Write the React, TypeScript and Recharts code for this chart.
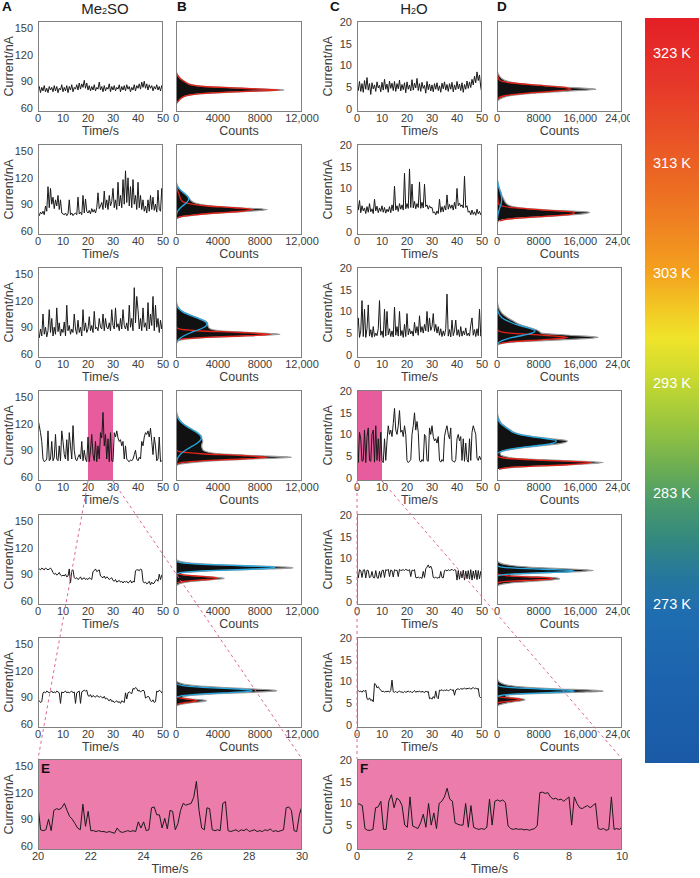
import React from 'react'
import { LineChart, Line, ComposedChart, Area, XAxis, YAxis, ReferenceArea } from 'recharts'

const FONT = '"Liberation Sans", Arial, Helvetica, sans-serif'
const INK = '#3c3c3c'
const FRAME = '#808080'
const RED = '#e2231a'
const BLUE = '#29a9e1'
const STRIP = '#e65c9c'
const ZOOM_BG = '#ec7cab'

// layout (px)
const BOX_H = 91
const ROW_TOPS = [21, 144, 267, 390, 514, 637]
const ZOOM_TOP = 759
const COL_A = 38
const COL_B = 176
const COL_C = 357
const COL_D = 497
const Y_AXIS_W = 38
const TOP_PAD = 4
const X_AXIS_H = 40
const SIDE_PAD = 20

const DMSO_DOMAIN: [number, number] = [55, 158.5]
const WATER_DOMAIN: [number, number] = [-0.75, 20.25]
const DMSO_TICKS = [60, 90, 120, 150]
const WATER_TICKS = [0, 5, 10, 15, 20]
const TIME_TICKS = [0, 10, 20, 30, 40, 50]
const DMSO_COUNT_TICKS = [0, 4000, 8000, 12000]
const WATER_COUNT_TICKS = [0, 8000, 16000, 24000]
const TEMPS = ['323 K', '313 K', '303 K', '293 K', '283 K', '273 K']

// ---- current traces, 0-50 s, Me2SO (nA) ----
const dmso323 = [
  80, 84, 77, 83, 79, 85, 78, 82, 77, 84,
  80, 83, 78, 85, 79, 84, 77, 82, 80, 86,
  78, 83, 79, 85, 77, 84, 80, 86, 78, 83,
  81, 86, 80, 88, 81, 87, 83, 91, 82, 88,
  80, 85, 79, 84, 80, 86, 79, 83, 81, 89,
  80, 84, 78, 85, 79, 83, 81, 87, 78, 84,
  80, 85, 79, 83, 81, 86, 78, 84, 80, 85,
  79, 86, 81, 84, 78, 83, 80, 86, 79, 85,
  82, 87, 81, 89, 83, 90, 82, 87, 80, 86,
  82, 85, 79, 84, 81, 86, 80, 84, 79, 85, 81,
]
const dmso313 = [
  80, 77, 81, 79, 82, 78, 88, 82, 110, 86,
  108, 90, 98, 85, 95, 88, 100, 84, 95, 80,
  79, 78, 80, 77, 79, 95, 78, 80, 77, 79,
  80, 78, 98, 79, 81, 78, 100, 80, 96, 82,
  80, 83, 79, 85, 81, 84, 80, 86, 103, 85,
  88, 92, 84, 105, 86, 95, 84, 100, 88, 93,
  108, 86, 95, 84, 115, 88, 100, 86, 118, 90,
  128, 92, 120, 88, 110, 86, 118, 90, 100, 84,
  115, 86, 100, 84, 95, 82, 88, 80, 95, 82,
  100, 84, 98, 83, 90, 81, 106, 84, 82, 108, 80,
]
const dmso303 = [
  82, 78, 88, 80, 105, 82, 90, 79, 86, 110,
  84, 100, 80, 90, 82, 112, 85, 95, 80, 88,
  84, 96, 80, 115, 86, 92, 82, 88, 84, 105,
  88, 82, 98, 84, 90, 80, 110, 86, 95, 84,
  88, 102, 86, 92, 84, 108, 88, 90, 86, 100,
  90, 88, 105, 86, 100, 90, 88, 95, 86, 110,
  92, 88, 112, 90, 94, 86, 100, 88, 110, 92,
  88, 95, 86, 115, 90, 100, 86, 135, 95, 125,
  110, 88, 100, 86, 112, 90, 95, 86, 118, 88,
  105, 92, 125, 86, 115, 90, 100, 84, 98, 88, 100,
]
const dmso293 = [
  125, 118, 110, 100, 80, 77, 78, 80, 112, 78,
  80, 100, 78, 82, 108, 80, 78, 95, 78, 112,
  100, 85, 80, 102, 78, 110, 95, 80, 118, 90,
  80, 78, 82, 85, 80, 100, 78, 90, 80, 77,
  105, 77, 90, 108, 85, 78, 100, 77, 95, 80,
  110, 104, 133, 95, 108, 80, 103, 77, 110, 78,
  77, 110, 105, 112, 104, 100, 102, 95, 100, 80,
  95, 80, 78, 77, 79, 78, 80, 85, 90, 80,
  78, 82, 80, 100, 95, 105, 110, 108, 112, 105,
  115, 100, 85, 105, 95, 78, 80, 105, 77, 78, 77,
]
const dmso283 = [
  95, 96, 95, 97, 96, 95, 97, 96, 95, 96,
  97, 95, 92, 90, 91, 89, 90, 92, 89, 88,
  89, 88, 90, 87, 88, 96, 80, 94, 95, 86,
  85, 86, 84, 85, 87, 84, 85, 86, 84, 85,
  84, 86, 85, 84, 93, 94, 96, 93, 94, 95,
  88, 87, 86, 88, 85, 87, 86, 84, 85, 86,
  83, 82, 84, 81, 82, 83, 81, 82, 80, 82,
  81, 82, 80, 81, 83, 80, 82, 81, 94, 95,
  95, 94, 96, 95, 82, 80, 81, 79, 80, 82,
  78, 81, 79, 80, 83, 84, 82, 90, 84, 89, 88,
]
const dmso273 = [
  85, 86, 84, 85, 95, 96, 95, 97, 96, 95,
  96, 97, 95, 96, 95, 97, 96, 95, 83, 96,
  95, 96, 97, 95, 96, 95, 96, 97, 95, 96,
  83, 95, 96, 97, 83, 96, 97, 98, 97, 98,
  92, 91, 93, 90, 92, 91, 90, 92, 91, 90,
  91, 90, 89, 91, 88, 89, 87, 86, 88, 85,
  86, 84, 85, 86, 84, 85, 83, 86, 85, 84,
  95, 88, 95, 96, 95, 94, 100, 99, 101, 100,
  97, 98, 96, 97, 98, 97, 89, 90, 91, 90,
  86, 85, 87, 84, 85, 97, 96, 98, 97, 95, 98,
]

// ---- current traces, 0-50 s, H2O (nA) ----
const water323 = [
  5.5, 4.2, 6.3, 4.0, 5.8, 3.8, 6.5, 4.5, 7.2, 4.3,
  5.8, 3.3, 6.0, 4.6, 5.5, 4.0, 6.2, 4.8, 5.4, 3.9,
  6.1, 4.3, 6.8, 4.5, 5.7, 3.8, 6.4, 4.7, 5.9, 4.2,
  6.3, 4.0, 5.8, 4.6, 6.6, 4.1, 5.6, 4.4, 6.0, 3.7,
  6.2, 4.5, 5.5, 4.1, 6.7, 4.3, 5.9, 4.8, 7.0, 4.2,
  5.8, 4.0, 6.1, 4.7, 5.4, 3.6, 6.3, 4.4, 5.7, 4.1,
  5.5, 3.9, 5.8, 4.5, 6.0, 4.2, 5.3, 3.8, 5.9, 4.6,
  6.2, 4.3, 5.6, 4.0, 5.8, 4.5, 6.1, 3.9, 5.5, 4.4,
  6.3, 4.6, 5.7, 4.2, 6.0, 3.8, 5.6, 4.5, 6.4, 4.7,
  6.2, 4.9, 6.8, 5.5, 7.5, 6.0, 8.5, 6.5, 7.8, 5.0, 3.5,
]
const water313 = [
  7.5, 5.0, 7.2, 4.4, 6.0, 4.8, 5.5, 4.2, 5.8, 4.5,
  6.5, 4.6, 5.3, 4.2, 7.5, 4.8, 5.9, 4.4, 5.5, 4.7,
  6.0, 4.5, 5.6, 4.3, 5.2, 4.6, 5.8, 4.4, 6.2, 4.8,
  10.5, 5.0, 6.0, 4.7, 6.5, 5.2, 6.2, 5.0, 13.5, 5.3,
  6.5, 5.4, 14.5, 5.6, 11.0, 5.5, 7.0, 5.3, 6.5, 5.6,
  11.5, 5.4, 6.8, 5.5, 11.0, 5.8, 6.2, 5.2, 6.0, 5.5,
  5.6, 4.3, 4.6, 3.9, 4.8, 4.2, 7.5, 4.5, 5.8, 4.6,
  6.0, 5.0, 8.5, 5.2, 6.3, 5.4, 6.2, 5.0, 6.8, 5.3,
  10.0, 6.0, 6.6, 5.8, 6.2, 5.5, 12.8, 5.6, 6.0, 4.5,
  4.8, 3.9, 5.0, 4.0, 4.6, 3.8, 5.2, 4.1, 4.7, 3.9, 4.3,
]
const water303 = [
  4.5, 8.5, 4.0, 5.5, 12.5, 4.2, 10.5, 4.0, 6.0, 11.5,
  4.3, 5.8, 4.0, 6.5, 4.2, 5.0, 4.4, 6.0, 12.5, 4.5,
  5.5, 4.0, 10.5, 4.3, 10.0, 4.6, 6.0, 4.2, 5.5, 4.1,
  11.0, 4.5, 6.5, 4.3, 10.0, 4.4, 5.6, 4.0, 7.0, 4.2,
  9.5, 4.6, 6.0, 4.8, 5.5, 4.3, 7.5, 5.0, 6.5, 4.5,
  9.0, 5.2, 6.5, 5.0, 7.0, 5.5, 10.0, 5.3, 8.5, 5.6,
  6.5, 9.5, 5.4, 7.0, 5.0, 6.5, 4.5, 6.0, 4.2, 5.5,
  4.4, 6.0, 14.0, 4.3, 5.8, 4.1, 8.0, 4.4, 5.5, 8.0,
  4.5, 5.8, 4.2, 6.5, 4.3, 5.5, 4.6, 6.2, 4.4, 5.0,
  4.3, 6.8, 8.5, 4.5, 5.8, 4.2, 6.0, 4.4, 10.5, 4.3, 5.0,
]
const water293 = [
  11.0, 3.5, 10.5, 9.0, 3.8, 4.0, 11.0, 3.5, 9.5, 11.5,
  4.0, 3.8, 10.0, 11.0, 3.6, 12.0, 4.0, 9.0, 3.8, 10.5,
  4.0, 3.5, 9.0, 4.0, 8.5, 12.0, 10.0, 11.0, 9.5, 12.5,
  16.0, 11.0, 10.0, 12.0, 15.5, 10.5, 11.0, 9.5, 12.0, 10.0,
  4.0, 3.5, 3.8, 4.2, 10.0, 12.0, 15.0, 11.0, 13.0, 10.5,
  4.0, 3.6, 4.2, 3.8, 10.0, 9.5, 4.0, 3.8, 11.5, 10.0,
  12.0, 9.5, 8.5, 9.0, 8.0, 9.5, 4.0, 3.6, 4.2, 3.8,
  9.5, 11.0, 12.0, 10.0, 9.0, 11.5, 4.0, 3.8, 3.6, 4.2,
  9.0, 10.0, 8.5, 9.5, 4.0, 9.0, 3.8, 8.0, 4.2, 3.6,
  9.0, 4.0, 10.5, 12.0, 11.0, 10.0, 4.5, 4.0, 5.0, 4.2, 5.0,
]
const water283 = [
  7.2, 5.5, 7.4, 7.2, 5.6, 7.3, 7.4, 5.5, 7.3, 7.2,
  5.5, 5.8, 7.0, 5.6, 5.5, 7.2, 5.6, 5.4, 7.0, 5.6,
  7.2, 7.3, 5.6, 7.4, 7.2, 7.5, 5.8, 7.3, 7.2, 5.7,
  7.4, 7.2, 7.3, 5.8, 7.5, 7.2, 7.3, 7.4, 7.2, 7.5,
  7.3, 7.2, 7.4, 5.8, 7.3, 7.2, 7.4, 5.6, 5.5, 5.7,
  5.5, 5.6, 5.4, 7.0, 5.6, 7.6, 8.0, 8.5, 7.8, 8.2,
  7.5, 5.6, 5.5, 5.7, 5.4, 5.6, 5.5, 7.0, 5.6, 5.5,
  7.2, 7.3, 7.1, 7.4, 7.2, 7.3, 7.5, 7.2, 7.4, 7.3,
  5.0, 7.2, 5.2, 7.0, 5.5, 7.3, 5.0, 7.1, 5.3, 7.2,
  5.2, 7.4, 5.0, 7.1, 5.4, 7.3, 5.1, 7.2, 5.3, 7.0, 5.5,
]
const water273 = [
  7.8, 7.9, 7.6, 7.8, 7.5, 7.9, 7.7, 8.0, 6.0, 5.8,
  6.2, 5.6, 5.8, 5.3, 9.5, 9.3, 8.5, 8.8, 8.3, 8.0,
  7.6, 7.8, 7.5, 7.7, 7.6, 7.8, 7.5, 7.9, 10.3, 7.6,
  7.5, 7.7, 7.4, 7.6, 7.8, 7.5, 7.6, 7.4, 7.7, 7.5,
  7.6, 7.8, 7.5, 7.7, 7.4, 7.6, 7.9, 7.5, 7.7, 7.6,
  7.8, 7.5, 7.7, 7.6, 7.4, 7.8, 7.5, 7.7, 6.0, 6.2,
  5.9, 6.5, 6.1, 7.8, 6.3, 6.0, 8.0, 7.9, 8.1, 7.8,
  8.0, 7.9, 8.1, 7.8, 8.0, 8.2, 7.9, 8.1, 6.8, 8.0,
  8.2, 8.3, 8.1, 8.4, 8.2, 8.3, 8.5, 8.2, 8.4, 8.3,
  8.5, 8.2, 8.4, 8.6, 8.3, 8.5, 8.2, 8.4, 6.5, 6.2, 6.5,
]

// ---- zoomed traces: Me2SO 293 K, 20-30 s; H2O 293 K, 0-10 s ----
const dmsoZoom = [
  105, 78, 77, 78, 90, 77, 100, 102, 101, 103,
  108, 100, 93, 90, 85, 80, 78, 107, 82, 99,
  77, 77, 76, 77, 76, 76, 75, 76, 75, 74,
  80, 76, 75, 76, 77, 76, 77, 76, 87, 80,
  87, 77, 78, 103, 104, 95, 95, 80, 91, 79,
  100, 99, 78, 85, 100, 108, 106, 107, 108, 115,
  133, 100, 80, 78, 103, 102, 78, 77, 78, 77,
  108, 110, 77, 76, 77, 78, 76, 78, 77, 79,
  76, 77, 78, 76, 77, 76, 78, 77, 79, 76,
  77, 76, 77, 78, 103, 104, 100, 77, 76, 95, 105,
]
const waterZoom = [
  10, 9.8, 9.5, 4.2, 3.8, 3.8, 4.0, 9.0, 9.2, 10.5,
  4.0, 4.0, 10.5, 12.0, 9.0, 11.2, 10.8, 9.5, 5.0, 4.5,
  11.5, 4.8, 4.5, 4.2, 5.5, 7.5, 4.5, 10.0, 5.0, 7.8,
  4.2, 10.0, 10.5, 11.5, 13.5, 11.0, 10.5, 5.5, 5.2, 5.0,
  5.0, 10.0, 4.5, 9.5, 4.5, 4.2, 4.0, 4.2, 4.0, 4.5,
  11.0, 5.0, 10.5, 10.8, 10.5, 10.8, 10.2, 4.8, 4.2, 4.0,
  4.2, 4.0, 4.1, 3.9, 4.0, 3.8, 4.0, 4.2, 4.8, 12.5,
  12.6, 12.3, 12.5, 11.5, 11.0, 11.2, 10.8, 11.0, 10.5, 11.0,
  11.5, 5.0, 11.5, 10.0, 9.0, 8.8, 9.2, 9.5, 9.0, 9.5,
  10.0, 4.2, 4.0, 4.2, 3.8, 4.0, 11.5, 4.0, 4.2, 4.0, 4.5,
]

// ---- Me2SO histograms: current bins (nA), counts, red and blue fits ----
const h323Bins = [64, 66, 68, 70, 72, 74, 76, 78, 80, 82, 84, 86, 88, 90, 92, 94, 96, 98, 100, 102]
const h323Counts = [0, 150, 300, 450, 700, 1200, 2500, 6000, 10300, 6500, 2800, 1500, 1100, 800, 550, 350, 200, 100, 30, 0]
const h323Red = [0, 100, 250, 400, 650, 1100, 2300, 5500, 9800, 6200, 2600, 1400, 1000, 750, 500, 330, 200, 110, 40, 0]
const h323Blue: (number | null)[] = []

const h313Bins = [72, 74, 76, 78, 80, 82, 84, 86, 88, 90, 92, 94, 96, 98, 100, 102, 104, 106, 108, 110, 112, 114, 116, 118]
const h313Counts = [0, 100, 600, 2000, 4200, 7000, 8700, 6000, 3600, 2300, 1700, 1450, 1300, 1200, 1050, 850, 650, 450, 300, 180, 100, 50, 20, 0]
const h313Red = [null, 80, 500, 1800, 3800, 6200, 7300, 5500, 3000, 1500, 800, 550, 450, 380, 320, 260, 200, 150, 110, 70, 40, 20, null, null]
const h313Blue = [null, null, 20, 44, 88, 162, 276, 433, 624, 831, 1019, 1152, 1200, 1152, 1019, 831, 624, 433, 276, 162, 88, 44, 20, null]

const h303Bins = [72, 74, 76, 78, 80, 82, 84, 86, 88, 90, 92, 94, 96, 98, 100, 102, 104, 106, 108, 110, 112, 114, 116, 118, 120, 122, 124]
const h303Counts = [0, 100, 600, 2500, 6500, 9900, 7000, 4200, 3300, 3100, 3050, 3000, 2950, 2650, 2250, 1800, 1350, 950, 650, 420, 280, 170, 100, 60, 30, 10, 0]
const h303Red = [null, 22, 300, 1990, 6170, 9000, 6170, 1990, 300, 60, 30, 20, 15, 10, 8, 5, 3, 0, null, null, null, null, null, null, null, null, null]
const h303Blue = [80, 151, 270, 451, 711, 1053, 1458, 1900, 2330, 2681, 2899, 2944, 2809, 2518, 2121, 1678, 1247, 871, 571, 351, 204, 111, 56, 27, 12, 5, 2]

const h293Bins = [72, 74, 76, 78, 80, 82, 84, 86, 88, 90, 92, 94, 96, 98, 100, 102, 104, 106, 108, 110, 112, 114, 116, 118, 120, 122, 124, 126, 128, 130, 132, 134, 136, 138, 140]
const h293Counts = [0, 300, 1500, 3500, 7000, 11000, 7500, 4200, 3000, 2600, 2500, 2450, 2450, 2500, 2550, 2500, 2450, 2400, 2250, 2050, 1800, 1500, 1200, 950, 720, 540, 400, 290, 200, 130, 80, 50, 30, 12, 0]
const h293Red = [null, 30, 485, 2400, 6275, 8640, 6275, 2400, 485, 60, 30, 30, 25, 25, 25, 20, 20, 20, 20, 20, 15, 15, 15, 15, 10, 10, 10, 10, 5, 5, 5, 0, null, null, null]
const h293Blue = [14, 27, 48, 82, 135, 213, 325, 475, 667, 901, 1168, 1456, 1743, 2004, 2215, 2352, 2400, 2352, 2215, 2004, 1743, 1456, 1168, 901, 667, 475, 325, 213, 135, 82, 48, 27, 14, 7, 3]

const h283Bins = [76, 77, 78, 79, 80, 81, 82, 83, 84, 85, 86, 87, 88, 89, 90, 91, 92, 93, 94, 95, 96, 97, 98, 99, 100, 101, 102, 103, 104, 105, 106, 107, 108]
const h283Counts = [0, 50, 150, 300, 600, 1000, 1700, 2600, 3700, 4600, 4300, 3300, 2100, 1000, 500, 500, 900, 2000, 3600, 6000, 9000, 11150, 10500, 8500, 6000, 3800, 2200, 1200, 600, 300, 120, 40, 0]
const h283Red = [null, null, 4, 20, 91, 318, 865, 1832, 3020, 3877, 3877, 3020, 1832, 865, 318, 91, 20, 4, 0, 0, 0, 0, 0, 0, 0, 0, 0, 0, 0, 0, null, null, null]
const h283Blue = [null, null, 0, 0, 0, 0, 0, 0, 0, 0, 0, 0, 0, 0, 0, 176, 550, 1413, 3015, 5318, 7760, 9377, 9377, 7760, 5318, 3015, 1413, 550, 176, 48, 10, null, null]

const h273Bins = [78, 79, 80, 81, 82, 83, 84, 85, 86, 87, 88, 89, 90, 91, 92, 93, 94, 95, 96, 97, 98, 99, 100, 101, 102, 103, 104, 105, 106, 107, 108, 109, 110]
const h273Counts = [0, 0, 50, 200, 500, 1000, 1700, 2500, 2900, 2400, 1500, 800, 600, 800, 1400, 2500, 4000, 6000, 8000, 9600, 9300, 8000, 6300, 4600, 3200, 2000, 1200, 700, 400, 200, 80, 20, 0]
const h273Red = [null, null, 0, 20, 124, 416, 990, 1657, 1970, 1657, 990, 416, 124, 26, 0, 0, 0, 0, 0, 0, 0, 0, 0, 0, 0, 0, 0, null, null, null, null, null, null]
const h273Blue = [null, null, 0, 0, 0, 0, 0, 0, 0, 0, 0, 0, 0, 322, 781, 1640, 2967, 4626, 6223, 7215, 7215, 6223, 4626, 2967, 1640, 781, 322, 115, 35, 9, 0, null, null]

// ---- H2O histograms ----
const w323Bins = [1.5, 2, 2.5, 3, 3.5, 4, 4.5, 5, 5.5, 6, 6.5, 7, 7.5, 8, 8.5, 9]
const w323Counts = [0, 300, 1000, 2500, 6000, 12500, 19000, 13000, 7500, 3300, 1600, 900, 500, 250, 100, 0]
const w323Red = [null, 35, 283, 1467, 4876, 10384, 14173, 12400, 6960, 2506, 580, 300, 150, 60, 0, null]
const w323Blue: (number | null)[] = []

const w313Bins = [2, 2.5, 3, 3.5, 4, 4.5, 5, 5.5, 6, 6.5, 7, 7.5, 8, 8.5, 9, 9.5, 10, 10.5, 11, 11.5, 12, 12.5, 13]
const w313Counts = [0, 400, 2500, 9000, 15500, 17800, 10000, 4500, 2500, 1800, 1500, 1300, 1100, 900, 800, 620, 480, 340, 230, 150, 90, 45, 0]
const w313Red = [null, 573, 2765, 8070, 14140, 14880, 9400, 3560, 810, 250, 200, 150, 100, 0, null, null, null, null, null, null, null, null, null]
const w313Blue = [null, 45, 72, 125, 195, 290, 412, 540, 680, 790, 872, 900, 872, 790, 680, 540, 412, 290, 195, 125, 72, 40, 20]

const w303Bins = [2, 2.5, 3, 3.5, 4, 4.5, 5, 5.5, 6, 6.5, 7, 7.5, 8, 8.5, 9, 9.5, 10, 10.5, 11, 11.5, 12, 12.5, 13]
const w303Counts = [0, 500, 4000, 13000, 19400, 14000, 8500, 8000, 7000, 5600, 4300, 3500, 2800, 2100, 1500, 1000, 700, 450, 300, 180, 100, 40, 0]
const w303Red = [null, 320, 2570, 8960, 13600, 8960, 2570, 320, 20, 0, 0, 0, 0, null, null, null, null, null, null, null, null, null, null]
const w303Blue = [null, 150, 550, 1500, 3000, 5000, 6700, 7300, 6500, 5000, 3600, 2600, 1700, 1000, 600, 350, 200, 110, 60, 30, 10, 0, null]

const w293Bins = [2, 2.5, 3, 3.5, 4, 4.5, 5, 5.5, 6, 6.5, 7, 7.5, 8, 8.5, 9, 9.5, 10, 10.5, 11, 11.5, 12, 12.5, 13, 13.5, 14, 14.5, 15, 15.5, 16]
const w293Counts = [500, 4500, 14000, 20400, 12000, 3500, 1200, 600, 800, 2500, 5500, 9500, 12500, 13500, 10500, 7000, 4500, 3300, 2600, 2000, 1400, 900, 600, 400, 250, 150, 80, 30, 0]
const w293Red = [367, 3665, 13430, 18130, 9000, 1650, 110, 0, 0, 0, 0, 0, 0, 0, 0, 0, 0, 0, 0, 0, 0, null, null, null, null, null, null, null, null]
const w293Blue = [null, null, null, null, null, null, null, 0, 600, 2000, 4800, 8200, 10800, 11400, 9500, 6500, 4200, 3000, 2400, 1800, 1200, 700, 400, 200, 100, 50, 20, 0, null]

const w283Bins = [3.5, 3.75, 4, 4.25, 4.5, 4.75, 5, 5.25, 5.5, 5.75, 6, 6.25, 6.5, 6.75, 7, 7.25, 7.5, 7.75, 8, 8.25, 8.5, 8.75, 9, 9.25, 9.5]
const w283Counts = [0, 200, 800, 2000, 4000, 7000, 10000, 12000, 11500, 8000, 3000, 2500, 6000, 11000, 16500, 18500, 15000, 10000, 6000, 3500, 2000, 1000, 500, 200, 0]
const w283Red = [null, 0, 0, 80, 585, 2560, 6760, 10700, 10160, 5800, 1990, 410, 50, 0, null, null, null, null, null, null, null, null, null, null, null]
const w283Blue = [null, null, 0, 0, 0, 0, 0, 0, 0, 0, 237, 1267, 4420, 10030, 14780, 14150, 8815, 3560, 940, 160, 20, 0, 0, null, null]

const w273Bins = [4, 4.25, 4.5, 4.75, 5, 5.25, 5.5, 5.75, 6, 6.25, 6.5, 6.75, 7, 7.25, 7.5, 7.75, 8, 8.25, 8.5, 8.75, 9, 9.25, 9.5, 9.75, 10, 10.25, 10.5, 10.75, 11]
const w273Counts = [0, 50, 300, 900, 1800, 3000, 4500, 5400, 4700, 3000, 1800, 1600, 4000, 9000, 15500, 20400, 18000, 12000, 7500, 4500, 2700, 1600, 1000, 600, 350, 200, 100, 40, 0]
const w273Red = [null, null, 0, 0, 135, 883, 2875, 4675, 3795, 1540, 312, 32, 0, null, null, null, null, null, null, null, null, null, null, null, null, null, null, null, null]
const w273Blue = [null, 0, 0, 0, 0, 0, 0, 0, 0, 0, 124, 660, 2445, 6356, 11610, 14875, 13375, 8440, 3740, 1160, 253, 39, 0, 0, 0, null, null, null, null]

type Hist = { bins: number[]; counts: number[]; red: (number | null)[]; blue: (number | null)[] }

const DMSO_TRACES = [dmso323, dmso313, dmso303, dmso293, dmso283, dmso273]
const WATER_TRACES = [water323, water313, water303, water293, water283, water273]
const DMSO_HISTS: Hist[] = [
  { bins: h323Bins, counts: h323Counts, red: h323Red, blue: h323Blue },
  { bins: h313Bins, counts: h313Counts, red: h313Red, blue: h313Blue },
  { bins: h303Bins, counts: h303Counts, red: h303Red, blue: h303Blue },
  { bins: h293Bins, counts: h293Counts, red: h293Red, blue: h293Blue },
  { bins: h283Bins, counts: h283Counts, red: h283Red, blue: h283Blue },
  { bins: h273Bins, counts: h273Counts, red: h273Red, blue: h273Blue },
]
const WATER_HISTS: Hist[] = [
  { bins: w323Bins, counts: w323Counts, red: w323Red, blue: w323Blue },
  { bins: w313Bins, counts: w313Counts, red: w313Red, blue: w313Blue },
  { bins: w303Bins, counts: w303Counts, red: w303Red, blue: w303Blue },
  { bins: w293Bins, counts: w293Counts, red: w293Red, blue: w293Blue },
  { bins: w283Bins, counts: w283Counts, red: w283Red, blue: w283Blue },
  { bins: w273Bins, counts: w273Counts, red: w273Red, blue: w273Blue },
]

const fmtCount = (v: number) => (v >= 10000 ? v.toLocaleString('en-US') : String(v))

const tickStyle = { fontSize: 11, fill: INK }

function Frame({ x, y, w }: { x: number; y: number; w: number }) {
  return (
    <div
      style={{
        position: 'absolute', left: x, top: y, width: w, height: BOX_H,
        border: `1px solid ${FRAME}`, boxSizing: 'border-box', pointerEvents: 'none',
      }}
    />
  )
}

function AxisTitles({ x, y, w, bottom, left }: { x: number; y: number; w: number; bottom: string; left?: string }) {
  return (
    <>
      <div style={{ position: 'absolute', left: x, top: y + BOX_H + 13, width: w, textAlign: 'center', fontSize: 12.5, lineHeight: 1 }}>
        {bottom}
      </div>
      {left && (
        <div
          style={{
            position: 'absolute', left: x - 29 - 50, top: y + BOX_H / 2 - 6.25, width: 100, height: 12.5,
            textAlign: 'center', fontSize: 12.5, lineHeight: 1, whiteSpace: 'nowrap', transform: 'rotate(-90deg)',
          }}
        >
          {left}
        </div>
      )}
    </>
  )
}

interface TraceProps {
  x: number
  y: number
  w: number
  values: number[]
  range: [number, number]
  domain: [number, number]
  yTicks: number[]
  xTicks: number[]
  strip?: [number, number]
  stripFill?: string
  lineWidth?: number
}

function TracePanel({ x, y, w, values, range, domain, yTicks, xTicks, strip, stripFill = STRIP, lineWidth = 1 }: TraceProps) {
  const [t0, t1] = range
  const data = values.map((v, i) => ({ t: t0 + ((t1 - t0) * i) / (values.length - 1), v }))
  return (
    <>
      <div style={{ position: 'absolute', left: x - Y_AXIS_W, top: y - TOP_PAD }}>
        <LineChart
          width={Y_AXIS_W + w + SIDE_PAD}
          height={TOP_PAD + BOX_H + X_AXIS_H}
          data={data}
          margin={{ top: TOP_PAD, right: SIDE_PAD, bottom: 0, left: 0 }}
        >
          {strip && <ReferenceArea x1={strip[0]} x2={strip[1]} fill={stripFill} fillOpacity={1} stroke="none" />}
          <XAxis
            dataKey="t" type="number" domain={range} ticks={xTicks} allowDataOverflow interval={0}
            axisLine={false} tickLine={false} tickSize={2} tickMargin={0} tick={tickStyle} height={X_AXIS_H}
          />
          <YAxis
            type="number" domain={domain} ticks={yTicks} allowDataOverflow interval={0}
            axisLine={false} tickLine={false} tickSize={3} tickMargin={2} tick={tickStyle} width={Y_AXIS_W}
          />
          <Line dataKey="v" type="linear" stroke="#1a1a1a" strokeWidth={lineWidth} dot={false} isAnimationActive={false} />
        </LineChart>
      </div>
      <Frame x={x} y={y} w={w} />
      <AxisTitles x={x} y={y} w={w} bottom="Time/s" left="Current/nA" />
    </>
  )
}

interface HistProps {
  x: number
  y: number
  w: number
  hist: Hist
  domain: [number, number]
  maxCount: number
  ticks: number[]
}

function HistPanel({ x, y, w, hist, domain, maxCount, ticks }: HistProps) {
  const rows = hist.bins.map((c, i) => ({
    c,
    n: hist.counts[i],
    r: hist.red[i] ?? null,
    b: hist.blue[i] ?? null,
  }))
  return (
    <>
      <div style={{ position: 'absolute', left: x - SIDE_PAD, top: y - TOP_PAD }}>
        <ComposedChart
          layout="vertical"
          width={SIDE_PAD + w + 30}
          height={TOP_PAD + BOX_H + X_AXIS_H}
          data={rows}
          margin={{ top: TOP_PAD, right: 30, bottom: 0, left: SIDE_PAD }}
        >
          <XAxis
            type="number" domain={[0, maxCount]} ticks={ticks} allowDataOverflow interval={0}
            tickFormatter={fmtCount} axisLine={false} tickLine={false} tickSize={2} tickMargin={0}
            tick={tickStyle} height={X_AXIS_H}
          />
          <YAxis type="number" dataKey="c" domain={domain} allowDataOverflow reversed hide />
          <Area
            dataKey="n" type="monotone" fill="#111111" fillOpacity={1} stroke="#9a9a9a" strokeWidth={1.2}
            dot={false} activeDot={false} isAnimationActive={false}
          />
          <Line dataKey="r" type="monotone" stroke={RED} strokeWidth={1.3} dot={false} isAnimationActive={false} />
          <Line dataKey="b" type="monotone" stroke={BLUE} strokeWidth={1.3} dot={false} isAnimationActive={false} />
        </ComposedChart>
      </div>
      <Frame x={x} y={y} w={w} />
      <AxisTitles x={x} y={y} w={w} bottom="Counts" />
    </>
  )
}

function Tag({ x, y, text, size = 13.5 }: { x: number; y: number; text: string; size?: number }) {
  return (
    <div style={{ position: 'absolute', left: x, top: y, fontSize: size, fontWeight: 'bold', lineHeight: 1, color: '#111' }}>
      {text}
    </div>
  )
}

function ColorBar() {
  return (
    <div style={{ position: 'absolute', left: 630, top: 0, width: 70, height: 878, background: '#fff' }}>
      <div
        style={{
          position: 'absolute', left: 15, top: 18, width: 54, height: 745,
          background:
            'linear-gradient(to bottom, #e41f26 0%, #e6352a 8%, #ea5a25 18%, #ee7a22 26%, #f4a11e 34%, #f2c824 39%, #f0e42b 43%, #d3dc2e 47%, #b4d236 51%, #8ec043 56%, #68ab55 61%, #4a9a6c 65%, #33897f 70%, #26779e 75%, #1f6db1 80%, #1c62ad 90%, #1a5aa6 100%)',
        }}
      />
      {TEMPS.map((t, i) => (
        <div
          key={t}
          style={{
            position: 'absolute', left: 15, top: 53 + i * 110.2 - 7.5, width: 54, textAlign: 'center',
            fontSize: 14.5, lineHeight: '15px', color: '#fff',
          }}
        >
          {t}
        </div>
      ))}
    </div>
  )
}

export default function App() {
  const zoomRow = ROW_TOPS[3] + BOX_H
  const ax = (t: number) => COL_A + (t / 50) * 125
  const cx = (t: number) => COL_C + (t / 50) * 125
  return (
    <div
      style={{
        position: 'absolute', left: 0, top: 0, width: 700, height: 878, background: '#fff',
        fontFamily: FONT, color: INK, overflow: 'hidden',
      }}
    >
      {ROW_TOPS.map((top, i) => (
        <React.Fragment key={i}>
          <TracePanel
            x={COL_A} y={top} w={125} values={DMSO_TRACES[i]} range={[0, 50]} domain={DMSO_DOMAIN}
            yTicks={DMSO_TICKS} xTicks={TIME_TICKS} strip={i === 3 ? [20, 30] : undefined}
          />
          <HistPanel
            x={COL_B} y={top} w={126} hist={DMSO_HISTS[i]} domain={DMSO_DOMAIN}
            maxCount={12000} ticks={DMSO_COUNT_TICKS}
          />
          <TracePanel
            x={COL_C} y={top} w={125} values={WATER_TRACES[i]} range={[0, 50]} domain={WATER_DOMAIN}
            yTicks={WATER_TICKS} xTicks={TIME_TICKS} strip={i === 3 ? [0, 10] : undefined}
          />
          <HistPanel
            x={COL_D} y={top} w={125} hist={WATER_HISTS[i]} domain={WATER_DOMAIN}
            maxCount={24000} ticks={WATER_COUNT_TICKS}
          />
        </React.Fragment>
      ))}

      <TracePanel
        x={COL_A} y={ZOOM_TOP} w={264} values={dmsoZoom} range={[20, 30]} domain={DMSO_DOMAIN}
        yTicks={DMSO_TICKS} xTicks={[20, 22, 24, 26, 28, 30]} strip={[20, 30]} stripFill={ZOOM_BG}
      />
      <TracePanel
        x={COL_C} y={ZOOM_TOP} w={265} values={waterZoom} range={[0, 10]} domain={WATER_DOMAIN}
        yTicks={WATER_TICKS} xTicks={[0, 2, 4, 6, 8, 10]} strip={[0, 10]} stripFill={ZOOM_BG}
      />

      <svg width={700} height={878} style={{ position: 'absolute', left: 0, top: 0, pointerEvents: 'none' }}>
        <g stroke="#e0679a" strokeWidth={1} strokeDasharray="3 3" fill="none">
          <line x1={ax(20)} y1={zoomRow} x2={COL_A} y2={ZOOM_TOP} />
          <line x1={ax(30)} y1={zoomRow} x2={COL_A + 264} y2={ZOOM_TOP} />
          <line x1={cx(0)} y1={zoomRow} x2={COL_C} y2={ZOOM_TOP} />
          <line x1={cx(10)} y1={zoomRow} x2={COL_C + 265} y2={ZOOM_TOP} />
        </g>
      </svg>

      <Tag x={2} y={0} text="A" />
      <Tag x={177} y={0} text="B" />
      <Tag x={330} y={0} text="C" />
      <Tag x={497} y={0} text="D" />
      <Tag x={41} y={ZOOM_TOP + 3} text="E" />
      <Tag x={360} y={ZOOM_TOP + 3} text="F" />

      <div style={{ position: 'absolute', left: 55, top: 1, width: 100, textAlign: 'center', fontSize: 15, lineHeight: 1, color: '#222' }}>
        Me<span style={{ fontSize: 9 }}>2</span>SO
      </div>
      <div style={{ position: 'absolute', left: 364, top: 1, width: 100, textAlign: 'center', fontSize: 15, lineHeight: 1, color: '#222' }}>
        H<span style={{ fontSize: 9 }}>2</span>O
      </div>

      <ColorBar />
    </div>
  )
}
